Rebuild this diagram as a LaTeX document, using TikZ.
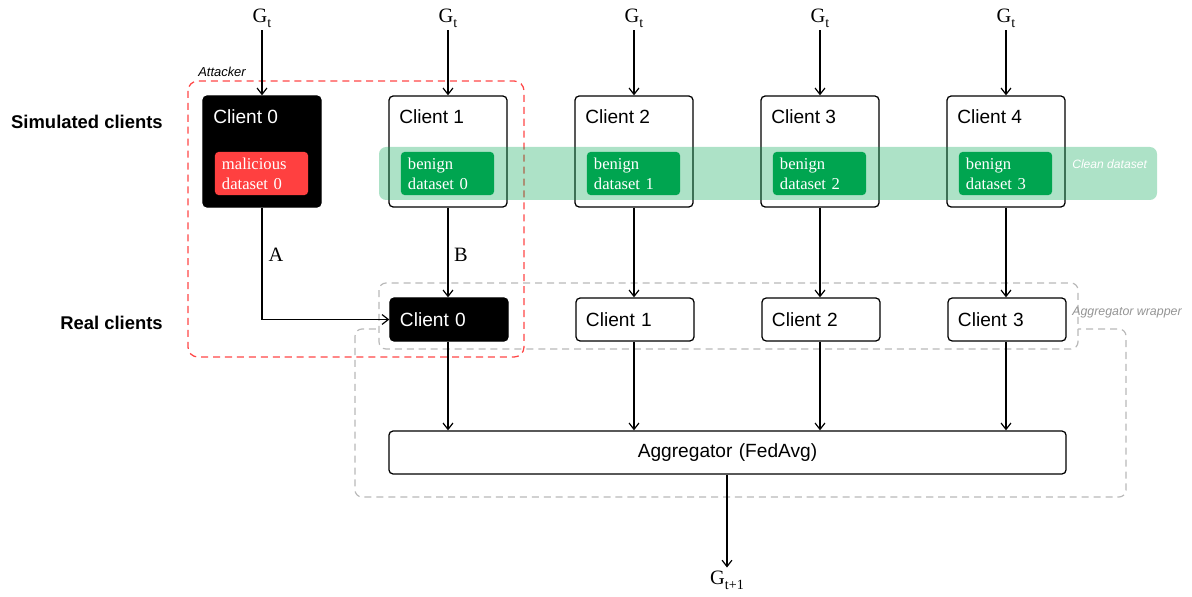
\documentclass[tikz,border=0pt]{standalone}
\usepackage{fontspec}
\setmainfont{Liberation Serif}
\setsansfont{Liberation Sans}
\usetikzlibrary{arrows.meta,positioning,calc}
\definecolor{attackred}{RGB}{255,70,70}
\definecolor{malred}{RGB}{255,64,64}
\definecolor{benigngreen}{RGB}{0,165,80}
\definecolor{wrapgray}{RGB}{185,185,185}
\tikzset{
  simbox/.style={rectangle, rounded corners=3pt, draw=black, line width=0.9pt, minimum width=2.95cm, minimum height=2.775cm, inner sep=0pt},
  realbox/.style={rectangle, rounded corners=3pt, draw=black, fill=white, line width=0.9pt, minimum height=1.075cm, inner xsep=0.25cm, text width=2.45cm, align=left, font=\sffamily\fontsize{13.6}{16}\selectfont},
  ctitle/.style={anchor=base west, inner sep=0pt, font=\sffamily\fontsize{13.6}{16}\selectfont},
  data/.style={rectangle, rounded corners=2.5pt, fill=benigngreen, text=white, minimum height=1.075cm, inner xsep=0.175cm, text width=1.975cm, align=left, font=\rmfamily\fontsize{11.8}{14.2}\selectfont},
  gnode/.style={inner sep=2pt, font=\rmfamily\fontsize{14.5}{16}\selectfont},
  rowlabel/.style={anchor=east, inner sep=0pt, font=\sffamily\bfseries\fontsize{13.1}{15}\selectfont},
  note/.style={anchor=west, inner sep=0pt, font=\sffamily\itshape\fontsize{8.8}{10}\selectfont},
  flow/.style={-{Straight Barb[length=4.5pt,width=7pt]}, line width=0.85pt, draw=black},
  wrap/.style={draw=wrapgray, dashed, line width=0.85pt, dash pattern=on 5pt off 3.5pt, rounded corners=5pt},
  attack/.style={draw=attackred, line width=0.9pt, dash pattern=on 5pt off 3.5pt, rounded corners=7pt}
}
\newcommand{\gsub}[1]{G\raisebox{-0.55ex}{\fontsize{10}{10}\selectfont #1}}

\begin{document}
\begin{tikzpicture}[x=0.025cm, y=-0.025cm]
  \useasboundingbox (0,0) rectangle (1192,597);

  % Aggregator wrapper (two overlapping dashed boxes)
  \draw[wrap] (355,329) rectangle (1126,497);
  \draw[wrap, fill=white] (379,283) rectangle (1078,349);
  \node[note, text=wrapgray!80!black] (wraplabel) at (1072,313) {Aggregator wrapper};

  % Attacker region
  \draw[attack] (188,81) rectangle (524,357);
  \node[note, font=\sffamily\itshape\fontsize{9.2}{11}\selectfont] (attacklabel) at (198,72) {Attacker};

  % Row labels
  \node[rowlabel] (simlabel) at (163,122) {Simulated clients};
  \node[rowlabel] (reallabel) at (163,323) {Real clients};

  % Global model inputs
  \node[gnode] (G0) at (262,18) {\gsub{t}};
  \node[gnode] (G1) at (448,18) {\gsub{t}};
  \node[gnode] (G2) at (634,18) {\gsub{t}};
  \node[gnode] (G3) at (820,18) {\gsub{t}};
  \node[gnode] (G4) at (1006,18) {\gsub{t}};

  % Simulated clients
  \node[simbox, fill=black] (S0) at (262,151.5) {};
  \node[simbox] (S1) at (448,151.5) {};
  \node[simbox] (S2) at (634,151.5) {};
  \node[simbox] (S3) at (820,151.5) {};
  \node[simbox] (S4) at (1006,151.5) {};
  \node[ctitle, text=white] (T0) at (213,124) {Client 0};
  \node[ctitle] (T1) at (399,124) {Client 1};
  \node[ctitle] (T2) at (585,124) {Client 2};
  \node[ctitle] (T3) at (771,124) {Client 3};
  \node[ctitle] (T4) at (957,124) {Client 4};

  % Clean dataset band
  \fill[benigngreen, fill opacity=0.32, rounded corners=5pt] (379,147) rectangle (1157,200);
  \node[note, text=white, font=\sffamily\itshape\fontsize{8.6}{10}\selectfont] (cleanlabel) at (1072,164) {Clean dataset};

  % Local datasets
  \node[data, fill=malred] (D0) at (261.5,173.5) {malicious\\dataset 0};
  \node[data] (D1) at (447.5,173.5) {benign\\dataset 0};
  \node[data] (D2) at (633.5,173.5) {benign\\dataset 1};
  \node[data] (D3) at (819.5,173.5) {benign\\dataset 2};
  \node[data] (D4) at (1005.5,173.5) {benign\\dataset 3};

  % Real clients
  \node[realbox, fill=black, text=white] (R0) at (449,319.5) {Client 0};
  \node[realbox] (R1) at (635,319.5) {Client 1};
  \node[realbox] (R2) at (821,319.5) {Client 2};
  \node[realbox] (R3) at (1007,319.5) {Client 3};

  % Aggregator and output
  \node[realbox, text width=16.425cm, align=center] (agg) at (727.5,452.5) {Aggregator (FedAvg)};
  \node[gnode] (Gout) at (727,580) {\gsub{t+1}};

  % Model broadcast
  \draw[flow] (G0) -- (S0);
  \draw[flow] (G1) -- (S1);
  \draw[flow] (G2) -- (S2);
  \draw[flow] (G3) -- (S3);
  \draw[flow] (G4) -- (S4);

  % Simulated -> real
  \draw[flow] (S0.south) |- (R0.west);
  \draw[flow] (S1.south) -- (S1.south |- R0.north);
  \draw[flow] (S2.south) -- (S2.south |- R1.north);
  \draw[flow] (S3.south) -- (S3.south |- R2.north);
  \draw[flow] (S4.south) -- (S4.south |- R3.north);
  \node[gnode] (labA) at (276,255) {A};
  \node[gnode] (labB) at (461,255) {B};

  % Real -> aggregator
  \draw[flow] (R0.south -| S1.south) -- (S1.south |- agg.north);
  \draw[flow] (R1.south -| S2.south) -- (S2.south |- agg.north);
  \draw[flow] (R2.south -| S3.south) -- (S3.south |- agg.north);
  \draw[flow] (R3.south -| S4.south) -- (S4.south |- agg.north);
  \draw[flow] (agg.south -| Gout) -- (Gout);
\end{tikzpicture}
\end{document}
